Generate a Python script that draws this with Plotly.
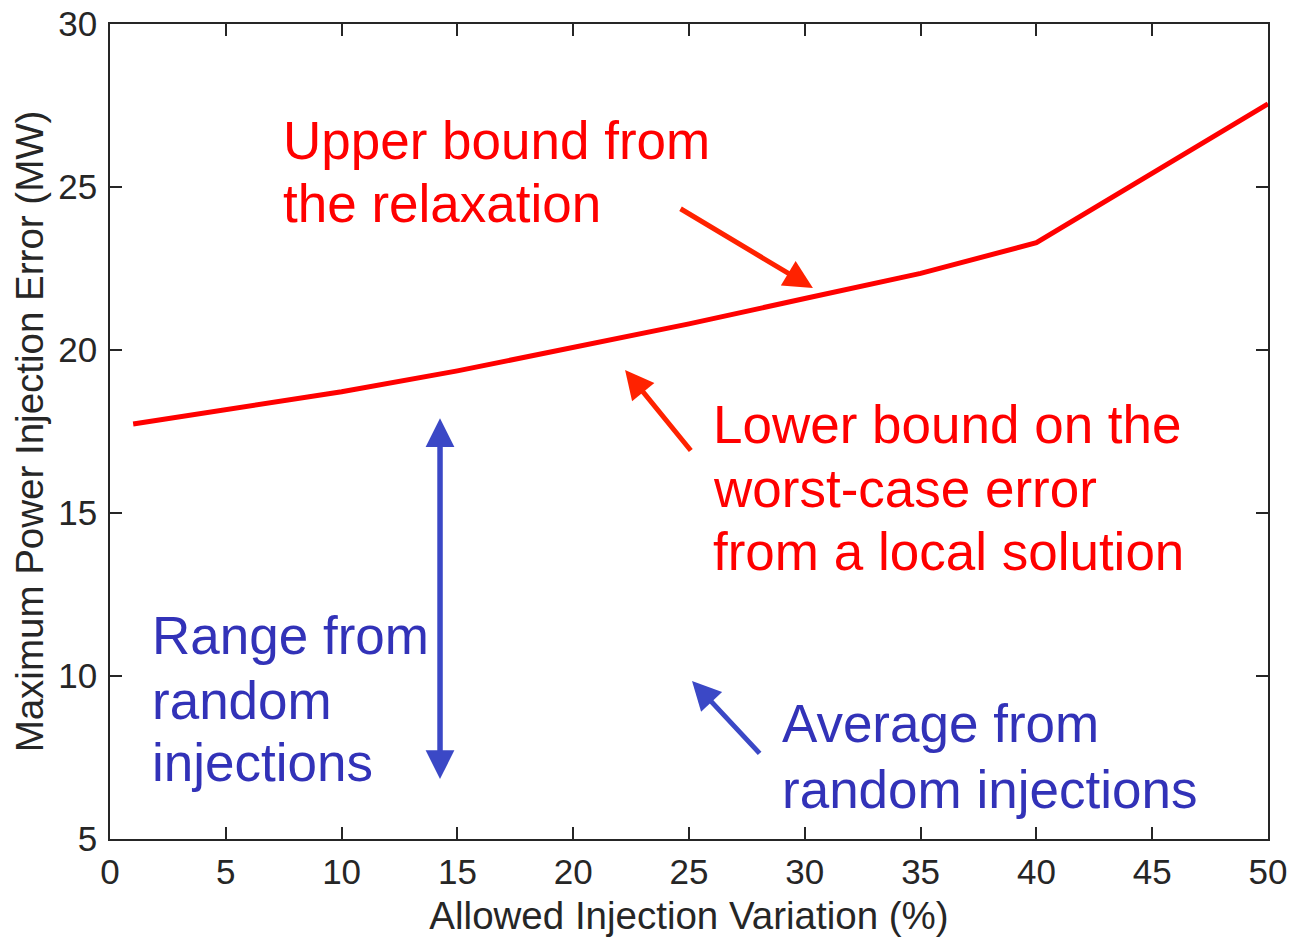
import plotly.graph_objects as go

# ---- data ----
variation_pct = [1, 5, 10, 15, 20, 25, 30, 35, 40, 45, 50]
upper_bound_mw = [17.73, 18.18, 18.72, 19.36, 20.08, 20.80, 21.58, 22.35, 23.29, 25.40, 27.55]

x_ticks = [0, 5, 10, 15, 20, 25, 30, 35, 40, 45, 50]
y_ticks = [5, 10, 15, 20, 25, 30]

FONT = "Liberation Sans, Arial, Helvetica, sans-serif"
AX_COLOR = "#262626"
RED_TEXT = "#ff0000"
RED_ARROW = "#ff2200"
BLUE_TEXT = "#3232b8"
BLUE_ARROW = "#3b48c6"

fig = go.Figure()
fig.add_trace(go.Scatter(
    x=variation_pct, y=upper_bound_mw, mode="lines",
    line=dict(color="#ff0000", width=5), showlegend=False, hoverinfo="skip",
))

# text labels (one annotation per line)
labels = [
    ("Upper bound from", 7.40, 26.44, RED_TEXT),
    ("the relaxation", 7.40, 24.49, RED_TEXT),
    ("Lower bound on the", 25.97, 17.72, RED_TEXT),
    ("worst-case error", 25.97, 15.74, RED_TEXT),
    ("from a local solution", 25.97, 13.82, RED_TEXT),
    ("Average from", 28.95, 8.53, BLUE_TEXT),
    ("random injections", 28.95, 6.53, BLUE_TEXT),
    ("Range from", 1.74, 11.23, BLUE_TEXT),
    ("random", 1.74, 9.26, BLUE_TEXT),
    ("injections", 1.74, 7.36, BLUE_TEXT),
]
for txt, lx, ly, col in labels:
    fig.add_annotation(x=lx, y=ly, xref="x", yref="y", text=txt, showarrow=False,
                       xanchor="left", yanchor="middle",
                       font=dict(family=FONT, size=53, color=col))

# arrows: (tip_x, tip_y, tail_x, tail_y, color)
arrows = [
    (30.35, 21.90, 24.57, 24.36, RED_ARROW),
    (22.24, 19.39, 25.13, 16.87, RED_ARROW),
    (25.13, 9.85, 28.11, 7.58, BLUE_ARROW),
    (14.25, 17.91, 14.25, 7.4, BLUE_ARROW),
    (14.25, 6.84, 14.25, 17.3, BLUE_ARROW),
]
for tx, ty, ax_, ay_, col in arrows:
    fig.add_annotation(x=tx, y=ty, ax=ax_, ay=ay_, xref="x", yref="y", axref="x", ayref="y",
                       text="", showarrow=True, arrowhead=2, arrowsize=1.15, arrowwidth=5,
                       arrowcolor=col, standoff=0, startstandoff=0, font=dict(size=1))

axis_common = dict(
    showgrid=False, zeroline=False, showline=True, linecolor=AX_COLOR, linewidth=1.5,
    mirror="ticks", ticks="inside", ticklen=12, tickwidth=1.5, tickcolor=AX_COLOR,
    tickfont=dict(family=FONT, size=35, color=AX_COLOR), automargin=False,
)
fig.update_xaxes(range=[0, 50], tickvals=x_ticks, ticklabelstandoff=1, **axis_common,
                 title=dict(text="Allowed Injection Variation (%)",
                            font=dict(family=FONT, size=38.5, color=AX_COLOR), standoff=13))
fig.update_yaxes(range=[5, 30], tickvals=y_ticks, ticklabelstandoff=4, **axis_common,
                 title=dict(text="Maximum Power Injection Error (MW)",
                            font=dict(family=FONT, size=38.5, color=AX_COLOR), standoff=3))

fig.update_layout(
    template="none",
    width=1294, height=937, autosize=False,
    margin=dict(l=110, r=26, t=24, b=98),
    paper_bgcolor="white", plot_bgcolor="white",
    font=dict(family=FONT),
)
fig.write_html("out.html")
